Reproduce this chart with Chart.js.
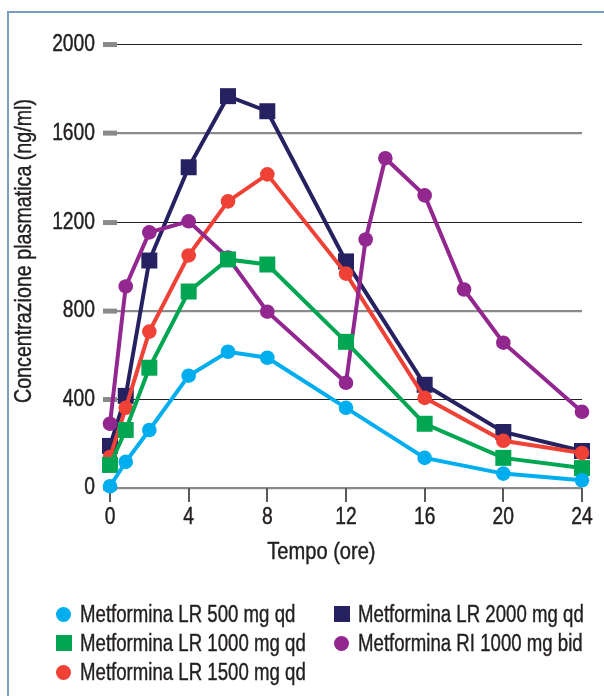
<!DOCTYPE html>
<html>
<head>
<meta charset="utf-8">
<script src="https://cdn.jsdelivr.net/npm/chart.js@4.4.1/dist/chart.umd.min.js"></script>
<style>
  html, body { margin: 0; padding: 0; background: #fff; }
  body { width: 604px; height: 696px; position: relative; overflow: hidden;
         font-family: 'Liberation Sans', Arial, sans-serif; color: #231f20; }
  #frame { position: absolute; left: 7px; top: 11px; width: 620px; height: 720px;
           border-top: 2px solid #7b9dc0; border-left: 2px solid #7b9dc0; }
  #wrap { position: absolute; left: 0; top: 0; width: 604px; height: 570px; }
  #legend { position: absolute; left: 0; top: 0; width: 604px; height: 696px; pointer-events: none; }
  .item { position: absolute; font-size: 23px; line-height: 26px; white-space: nowrap;
          -webkit-text-stroke: 0.4px #231f20;
          transform: scaleX(0.81); transform-origin: 0 50%; }
  .mk { position: absolute; }
</style>
</head>
<body>
<div id="frame"></div>
<div id="wrap"><canvas id="chart" width="604" height="570"></canvas></div>
<div id="legend"></div>
<script>
// ---- data ----
const hoursLR = [0, 0.8, 2, 4, 6, 8, 12, 16, 20, 24];
const hoursRI = [0, 0.8, 2, 4, 6, 8, 12, 13, 14, 16, 18, 20, 24];

const lr500 = [8, 118, 262, 507, 615, 588, 362, 136, 65, 35];
const lr1000 = [104, 262, 543, 887, 1032, 1009, 660, 290, 136, 90];
const lr1500 = [140, 362, 706, 1050, 1294, 1416, 968, 407, 213, 158];
const lr2000 = [190, 416, 1027, 1448, 1769, 1701, 1023, 466, 253, 167];
const ri1000 = [290, 910, 1154, 1204, 1040, 796, 475, 1122, 1489, 1321, 896, 656, 344];

const xTicks = [0, 4, 8, 12, 16, 20, 24];
const yTicks = [0, 400, 800, 1200, 1600, 2000];
const xTitle = "Tempo (ore)";
const yTitle = "Concentrazione plasmatica (ng/ml)";

const seriesNames = [
  "Metformina LR 500 mg qd",
  "Metformina LR 1000 mg qd",
  "Metformina LR 1500 mg qd",
  "Metformina LR 2000 mg qd",
  "Metformina RI 1000 mg bid"
];
const seriesColors = ["#00aeef", "#00a651", "#ef4136", "#262262", "#92278f"];
const seriesShapes = ["circle", "rect", "circle", "rect", "circle"];

const FONT = "'Liberation Sans', Arial, sans-serif";
const INK = "#231f20";
const NARROW = 0.82; // fake a condensed face

function pts(xs, ys) {
  return xs.map((x, i) => ({ x: x, y: ys[i] }));
}

function makeSet(i, xs, ys, order) {
  const rect = seriesShapes[i] === "rect";
  return {
    label: seriesNames[i],
    data: pts(xs, ys),
    borderColor: seriesColors[i],
    backgroundColor: seriesColors[i],
    pointBackgroundColor: seriesColors[i],
    pointBorderWidth: 0,
    borderWidth: 4,
    pointStyle: seriesShapes[i],
    pointRadius: rect ? 11.3 : 7.3,
    pointHoverRadius: rect ? 11.3 : 7.3,
    tension: 0,
    clip: false,
    order: order
  };
}

const datasets = [
  makeSet(0, hoursLR, lr500, 1),
  makeSet(1, hoursLR, lr1000, 2),
  makeSet(4, hoursRI, ri1000, 3),
  makeSet(2, hoursLR, lr1500, 4),
  makeSet(3, hoursLR, lr2000, 5)
];

function narrowText(ctx, text, x, y, align, rot) {
  ctx.save();
  ctx.translate(x, y);
  if (rot) ctx.rotate(rot);
  ctx.scale(NARROW, 1);
  ctx.textAlign = align;
  ctx.textBaseline = "middle";
  ctx.fillText(text, 0, 0);
  ctx.strokeText(text, 0, 0);
  ctx.restore();
}

// tick labels, x tick marks and axis titles in a narrow face
const axisText = {
  id: "axisText",
  beforeDatasetsDraw(chart) {
    const ctx = chart.ctx;
    const xs = chart.scales.x;
    const bottom = chart.chartArea.bottom;
    ctx.save();
    ctx.strokeStyle = "#58595b";
    ctx.lineWidth = 2;
    xTicks.forEach(v => {
      const px = Math.round(xs.getPixelForValue(v));
      ctx.beginPath();
      ctx.moveTo(px, bottom);
      ctx.lineTo(px, bottom + 14);
      ctx.stroke();
    });
    ctx.restore();
  },
  afterDraw(chart) {
    const ctx = chart.ctx;
    const xs = chart.scales.x;
    const ys = chart.scales.y;
    ctx.save();
    ctx.fillStyle = INK;
    ctx.strokeStyle = INK;
    ctx.lineWidth = 0.45;
    ctx.font = "23.5px " + FONT;
    yTicks.forEach(v => narrowText(ctx, String(v), ys.right - 22, ys.getPixelForValue(v), "right"));
    xTicks.forEach(v => narrowText(ctx, String(v), xs.getPixelForValue(v), chart.chartArea.bottom + 30, "center"));
    ctx.font = "24.5px " + FONT;
    narrowText(ctx, xTitle, xs.getPixelForValue(10.75), chart.chartArea.bottom + 64, "center");
    ctx.font = "24px " + FONT;
    narrowText(ctx, yTitle, 24, ys.getPixelForValue(1070), "center", -Math.PI / 2);
    ctx.restore();
  }
};

new Chart(document.getElementById("chart").getContext("2d"), {
  type: "line",
  data: { datasets: datasets },
  options: {
    responsive: false,
    animation: false,
    layout: { padding: { top: 45, right: 22, bottom: 0, left: 0 } },
    plugins: { legend: { display: false }, tooltip: { enabled: false } },
    scales: {
      x: {
        type: "linear",
        min: 0.356,
        max: 24,
        afterBuildTicks: (s) => { s.ticks = xTicks.map(v => ({ value: v })); },
        afterFit: (s) => { s.height = 82; },
        border: { display: false },
        grid: { display: false },
        ticks: { display: false }
      },
      y: {
        min: 0,
        max: 2000,
        afterBuildTicks: (s) => { s.ticks = yTicks.map(v => ({ value: v })); },
        afterFit: (s) => { s.width = 117; },
        border: { display: false },
        grid: {
          color: (c) => (c.index % 2 === 0 ? "#8a8a8a" : INK),
          lineWidth: (c) => (c.index % 2 === 0 ? 2.2 : 1.1),
          drawTicks: true,
          tickLength: 14,
          tickWidth: 5,
          tickColor: "#8a8a8a"
        },
        ticks: { display: false }
      }
    }
  },
  plugins: [axisText]
});

// ---- legend, two columns filled top to bottom ----
const legendCol = [0, 0, 0, 1, 1];
const legendRow = [0, 1, 2, 0, 1];
const colX = [56, 334];
const rowY = [601, 630, 659];
const legend = document.getElementById("legend");
seriesNames.forEach((name, s) => {
  const rect = seriesShapes[s] === "rect";
  const mk = document.createElement("div");
  mk.className = "mk";
  const size = rect ? 16 : 15;
  mk.style.width = size + "px";
  mk.style.height = size + "px";
  mk.style.background = seriesColors[s];
  mk.style.borderRadius = rect ? "0" : "50%";
  mk.style.left = colX[legendCol[s]] + "px";
  mk.style.top = (rowY[legendRow[s]] + 13 - size / 2) + "px";
  legend.appendChild(mk);
  const t = document.createElement("div");
  t.className = "item";
  t.textContent = name;
  t.style.left = (colX[legendCol[s]] + 24) + "px";
  t.style.top = rowY[legendRow[s]] + "px";
  legend.appendChild(t);
});
</script>
</body>
</html>
